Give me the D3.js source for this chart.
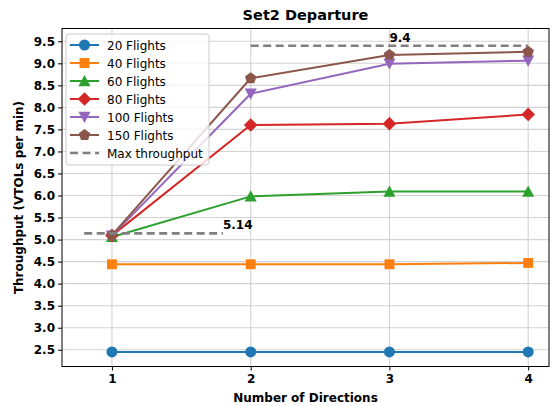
<!DOCTYPE html>
<html><head><meta charset="utf-8">
<script src="https://cdn.jsdelivr.net/npm/d3@7"></script>
<style>body{margin:0;background:#fff}svg{display:block;font-family:"DejaVu Sans",sans-serif}</style>
</head><body><svg id="c" width="552" height="406"></svg>
<script>
const directions = [1, 2, 3, 4];
const seriesNames = ["20 Flights", "40 Flights", "60 Flights", "80 Flights", "100 Flights", "150 Flights"];
const flights20 = [2.45, 2.45, 2.45, 2.45];
const flights40 = [4.44, 4.44, 4.44, 4.47];
const flights60 = [5.06, 5.98, 6.09, 6.09];
const flights80 = [5.09, 7.6, 7.63, 7.84];
const flights100 = [5.09, 8.31, 8.99, 9.06];
const flights150 = [5.1, 8.66, 9.19, 9.26];
const maxThroughput = [{x0: 0.8, x1: 1.8, y: 5.14, label: "5.14"}, {x0: 2, x1: 4, y: 9.4, label: "9.4"}];
const yTicks = [2.5, 3.0, 3.5, 4.0, 4.5, 5.0, 5.5, 6.0, 6.5, 7.0, 7.5, 8.0, 8.5, 9.0, 9.5];
const colors = ["#1f77b4", "#ff7f0e", "#2ca02c", "#d62728", "#9467bd", "#8c564b"];
const markers = ["circle", "square", "triangle", "diamond", "triangleDown", "pentagon"];
const allSeries = [flights20, flights40, flights60, flights80, flights100, flights150];

const svg = d3.select("#c");
const L = 62, R = 549, T = 28.5, B = 366.5;
const x = d3.scaleLinear().domain([0.64, 4.15]).range([L, R]);
const y = d3.scaleLinear().domain([2.12, 9.79]).range([B, T]);

// grid
const g = svg.append("g");
g.selectAll(".gx").data(directions).enter().append("line")
  .attr("x1", d => x(d)).attr("x2", d => x(d)).attr("y1", T).attr("y2", B)
  .attr("stroke", "#d3d3d3").attr("stroke-width", 1.1);
g.selectAll(".gy").data(yTicks).enter().append("line")
  .attr("x1", L).attr("x2", R).attr("y1", d => y(d)).attr("y2", d => y(d))
  .attr("stroke", "#d3d3d3").attr("stroke-width", 1.1);

function markerPath(type, s) {
  const p = d3.path();
  if (type === "circle") { p.arc(0, 0, s / 2, 0, 2 * Math.PI); }
  else if (type === "square") { const h = s * 0.45; p.rect(-h, -h, 2 * h, 2 * h); }
  else if (type === "triangle") { const h = s * 0.55; p.moveTo(0, -h); p.lineTo(h, h * 0.85); p.lineTo(-h, h * 0.85); p.closePath(); }
  else if (type === "triangleDown") { const h = s * 0.55; p.moveTo(0, h); p.lineTo(h, -h * 0.85); p.lineTo(-h, -h * 0.85); p.closePath(); }
  else if (type === "diamond") { const h = s * 0.62; p.moveTo(0, -h); p.lineTo(h, 0); p.lineTo(0, h); p.lineTo(-h, 0); p.closePath(); }
  else if (type === "pentagon") { const r = s * 0.55; for (let i = 0; i < 5; i++) { const a = -Math.PI / 2 + i * 2 * Math.PI / 5; const px = r * Math.cos(a), py = r * Math.sin(a); i ? p.lineTo(px, py) : p.moveTo(px, py); } p.closePath(); }
  return p.toString();
}

const line = d3.line().x((d, i) => x(directions[i])).y(d => y(d));
allSeries.forEach((vals, si) => {
  svg.append("path").attr("d", line(vals)).attr("fill", "none")
    .attr("stroke", colors[si]).attr("stroke-width", 2);
  svg.selectAll(".m" + si).data(vals).enter().append("path")
    .attr("transform", (d, i) => `translate(${x(directions[i])},${y(d)})`)
    .attr("d", markerPath(markers[si], 11)).attr("fill", colors[si]);
});

// max throughput lines
maxThroughput.forEach(m => {
  svg.append("line").attr("x1", x(m.x0)).attr("x2", x(m.x1)).attr("y1", y(m.y)).attr("y2", y(m.y))
    .attr("stroke", "#808080").attr("stroke-width", 2.6).attr("stroke-dasharray", "8,4.5");
});
svg.append("text").attr("x", x(1.8)).attr("y", y(5.14) - 4).text(maxThroughput[0].label)
  .attr("font-size", 12).attr("font-weight", "bold");
svg.append("text").attr("x", x(3.0)).attr("y", y(9.4) - 4).text(maxThroughput[1].label)
  .attr("font-size", 12).attr("font-weight", "bold");

// axes
const xAxis = d3.axisBottom(x).tickValues(directions).tickFormat(d3.format("d")).tickSize(4).tickPadding(4);
const yAxis = d3.axisLeft(y).tickValues(yTicks).tickFormat(d3.format(".1f")).tickSize(4).tickPadding(3);
const xa = svg.append("g").attr("transform", `translate(0,${B})`).call(xAxis);
const ya = svg.append("g").attr("transform", `translate(${L},0)`).call(yAxis);
[xa, ya].forEach(a => {
  a.select(".domain").remove();
  a.selectAll("text").attr("font-size", 12).attr("font-weight", "bold").attr("fill", "#000")
    .attr("font-family", "DejaVu Sans");
  a.selectAll("line").attr("stroke", "#000").attr("stroke-width", 1);
});
svg.append("rect").attr("x", L).attr("y", T).attr("width", R - L).attr("height", B - T)
  .attr("fill", "none").attr("stroke", "#000").attr("stroke-width", 1);

// labels
svg.append("text").attr("x", (L + R) / 2).attr("y", 20).attr("text-anchor", "middle")
  .attr("font-size", 14.5).attr("font-weight", "bold").text("Set2 Departure");
svg.append("text").attr("x", (L + R) / 2).attr("y", 402).attr("text-anchor", "middle")
  .attr("font-size", 12).attr("font-weight", "bold").text("Number of Directions");
svg.append("text").attr("transform", `translate(23,${(T + B) / 2}) rotate(-90)`).attr("text-anchor", "middle")
  .attr("font-size", 12).attr("font-weight", "bold").text("Throughput (VTOLs per min)");

// legend
const lg = svg.append("g").attr("transform", "translate(66,34)");
lg.append("rect").attr("x", 0).attr("y", 0).attr("width", 143).attr("height", 131).attr("rx", 3)
  .attr("fill", "#fff").attr("fill-opacity", 0.8).attr("stroke", "#ccc").attr("stroke-width", 1);
const legItems = seriesNames.map((n, i) => ({name: n, color: colors[i], marker: markers[i], dash: null}))
  .concat([{name: "Max throughput", color: "#808080", marker: null, dash: "8,4.5"}]);
legItems.forEach((it, i) => {
  const yy = 11 + i * 18;
  lg.append("line").attr("x1", 4).attr("x2", 33).attr("y1", yy).attr("y2", yy)
    .attr("stroke", it.color).attr("stroke-width", it.dash ? 2.6 : 2).attr("stroke-dasharray", it.dash);
  if (it.marker) lg.append("path").attr("transform", `translate(18.5,${yy})`).attr("d", markerPath(it.marker, 11)).attr("fill", it.color);
  lg.append("text").attr("x", 41).attr("y", yy + 4.5).attr("font-size", 12).text(it.name);
});
</script></body></html>
